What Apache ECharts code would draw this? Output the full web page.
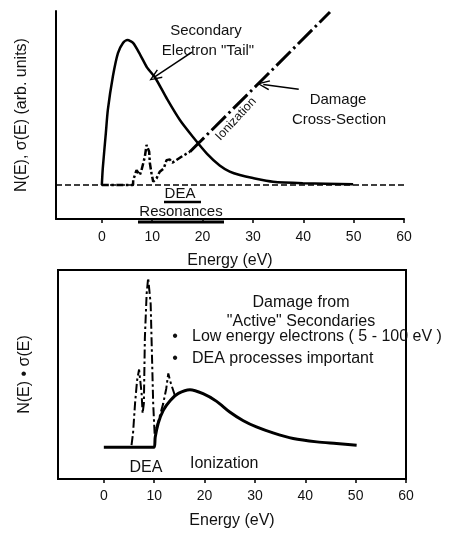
<!DOCTYPE html>
<html><head><meta charset="utf-8">
<script src="https://cdn.jsdelivr.net/npm/echarts@6/dist/echarts.min.js"></script>
<style>html,body{margin:0;padding:0;background:#fff}#c{width:455px;height:533px}</style>
</head><body><div id="c"></div>
<script>
// ---- data ----
const xTicks = [0, 10, 20, 30, 40, 50, 60];
// top panel: secondary electron distribution N(E)
const topSecondary = [[0,0],[0.2,12],[0.8,36],[1.2,52],[2.2,75],[3.2,91],[4.2,98],[5.1,100],[6.2,98],[7.6,90],[9,81],[10.6,74],[13,59],[15.5,44.8],[18.1,33.1],[20.9,21.5],[23.4,13.5],[25.4,9.3],[27.4,6.9],[30.0,4.8],[34.0,2.3],[39.9,1.3],[49.9,0.6]];
// top panel: damage cross-section sigma(E), DEA resonance region
const topDamageDEA = [[0,0],[6.2,0],[6.23,3.4],[6.89,10.3],[7.55,6.9],[7.88,10.3],[8.54,19.5],[8.88,27.6],[9.4,23],[9.54,15],[9.87,8],[10.2,2.3],[10.86,4.6],[11.5,9.2],[12.3,11.5],[12.85,17.2],[13.5,17.7],[14.0,15.4],[14.8,17.2],[15.8,19.5],[17.5,23]];
// top panel: damage cross-section sigma(E), ionization region
const topDamageIon = [[17.5,23],[19.5,29.9],[31.8,72.4],[45.3,119.3]];
const topBaseline = [[-9.1,0],[60,0]];
// bottom panel: N(E)*sigma(E)
const bottomIonization = [[0,0],[10,0],[10.2,10],[10.8,24],[11.8,37],[13.2,47],[14.8,54],[17.1,57.7],[19.7,53.7],[22.4,46],[25.0,35.3],[27.7,26.5],[30.3,20.3],[33.6,14.3],[37.6,8.7],[42.3,5.3],[46.2,3.7],[50.2,2]];
const bottomDEA = [[5.5,2],[5.8,14],[6.2,44],[6.6,67],[7.0,78],[7.5,54],[7.7,34],[7.95,44],[8.15,110],[8.5,154],[8.8,170],[9.3,144],[9.6,84],[9.8,44],[10.1,12],[10.5,20],[11.8,44],[12.4,59],[12.8,74],[13.2,66],[14.1,52]];
// annotation arrows (data coords of top panel)
const arrowTail = [[17.9,91.7],[10.5,74.5]];
const arrowDamage = [[39.1,66],[32.05,69.4]];

const FONT = 'Liberation Sans, Arial, Helvetica, sans-serif';
const arrowPath = 'path://M0,0 L-6,12 L-4.6,12.7 L0,3.2 L4.6,12.7 L6,12 Z';

function txt(text, x, y, size, align, rot){
  return {type:'text', x:x, y:y, rotation: rot||0, silent:true,
    style:{text:text, fill:'#111', font: size+'px '+FONT, align: align||'center', verticalAlign:'middle'}};
}
function ln(x1,y1,x2,y2,w){
  return {type:'line', silent:true, shape:{x1:x1,y1:y1,x2:x2,y2:y2}, style:{stroke:'#000', lineWidth:w}};
}

const axisCommonX = (grid, margin) => ({
  gridIndex: grid, type:'value', min:-9.1, max:60,
  name:'Energy (eV)', nameLocation:'middle', nameGap:34,
  nameTextStyle:{color:'#111', fontSize:16, fontFamily:FONT},
  axisLine:{show:true, onZero:false, lineStyle:{color:'#000', width:2}},
  axisTick:{show:true, customValues:xTicks, length:4, lineStyle:{color:'#000', width:1.5}},
  axisLabel:{show:true, customValues:xTicks, margin:margin, color:'#111', fontSize:14, fontFamily:FONT},
  splitLine:{show:false}
});

const chart = echarts.init(document.getElementById('c'), null, {renderer:'canvas'});
chart.setOption({
  animation:false,
  backgroundColor:'#fff',
  grid:[
    {left:56, top:11, width:348, height:208},
    {left:58, top:270, width:348, height:209, show:true, borderColor:'#000', borderWidth:2, backgroundColor:'transparent'}
  ],
  xAxis:[axisCommonX(0, 11), axisCommonX(1, 10)],
  yAxis:[
    {gridIndex:0, type:'value', min:-23.4, max:120,
     name:'N(E), σ(E) (arb. units)', nameLocation:'middle', nameGap:26,
     nameTextStyle:{color:'#111', fontSize:16, fontFamily:FONT},
     axisLine:{show:true, onZero:false, lineStyle:{color:'#000', width:2}},
     axisTick:{show:false}, axisLabel:{show:false}, splitLine:{show:false}},
    {gridIndex:1, type:'value', min:-32, max:178,
     name:'N(E) • σ(E)', nameLocation:'middle', nameGap:25,
     nameTextStyle:{color:'#111', fontSize:16, fontFamily:FONT},
     axisLine:{show:true, onZero:false, lineStyle:{color:'#000', width:2}},
     axisTick:{show:false}, axisLabel:{show:false}, splitLine:{show:false}}
  ],
  series:[
    {type:'line', xAxisIndex:0, yAxisIndex:0, data:topBaseline, symbol:'none', silent:true,
     lineStyle:{color:'#000', width:1.5, type:[6,3]}},
    {type:'line', xAxisIndex:0, yAxisIndex:0, data:topSecondary, symbol:'none', silent:true, smooth:0.25,
     lineStyle:{color:'#000', width:2.5},
     markLine:{silent:true, symbol:['none', arrowPath], symbolSize:[10,13],
       lineStyle:{type:'solid', color:'#000', width:1.5}, label:{show:false},
       data:[[{coord:arrowTail[0]},{coord:arrowTail[1]}]]}},
    {type:'line', xAxisIndex:0, yAxisIndex:0, data:topDamageDEA, symbol:'none', silent:true,
     lineStyle:{color:'#000', width:2.5, type:[7,2.5,2.5,2.5]}},
    {type:'line', xAxisIndex:0, yAxisIndex:0, data:topDamageIon, symbol:'none', silent:true,
     lineStyle:{color:'#000', width:3, type:[20,4,2.5,4]},
     markLine:{silent:true, symbol:['none', arrowPath], symbolSize:[10,13],
       lineStyle:{type:'solid', color:'#000', width:1.5}, label:{show:false},
       data:[[{coord:arrowDamage[0]},{coord:arrowDamage[1]}]]}},
    {type:'line', xAxisIndex:1, yAxisIndex:1, data:bottomIonization, symbol:'none', silent:true, smooth:0.3,
     lineStyle:{color:'#000', width:3}},
    {type:'line', xAxisIndex:1, yAxisIndex:1, data:bottomDEA, symbol:'none', silent:true,
     lineStyle:{color:'#000', width:2, type:[9,3,2.5,3]}}
  ],
  graphic:[
    txt('Secondary', 206, 31, 15),
    txt('Electron "Tail"', 208, 51, 15),
    txt('Damage', 338, 100, 15),
    txt('Cross-Section', 339, 120, 15),
    txt('Ionization', 236, 119, 12.5, 'center', 47*Math.PI/180),
    txt('DEA', 180, 194, 15),
    ln(164, 202, 201, 202, 2.5),
    txt('Resonances', 181, 212, 15),
    ln(138, 222, 224, 222, 3),
    txt('Damage from', 301, 303, 16),
    txt('"Active" Secondaries', 301, 322, 16),
    txt('•', 175, 337, 16),
    txt('Low energy electrons ( 5 - 100 eV )', 192, 337, 16, 'left'),
    txt('•', 175, 359, 16),
    txt('DEA processes important', 192, 359, 16, 'left'),
    txt('DEA', 146, 468, 16),
    txt('Ionization', 190, 464, 16, 'left')
  ]
});
</script></body></html>
